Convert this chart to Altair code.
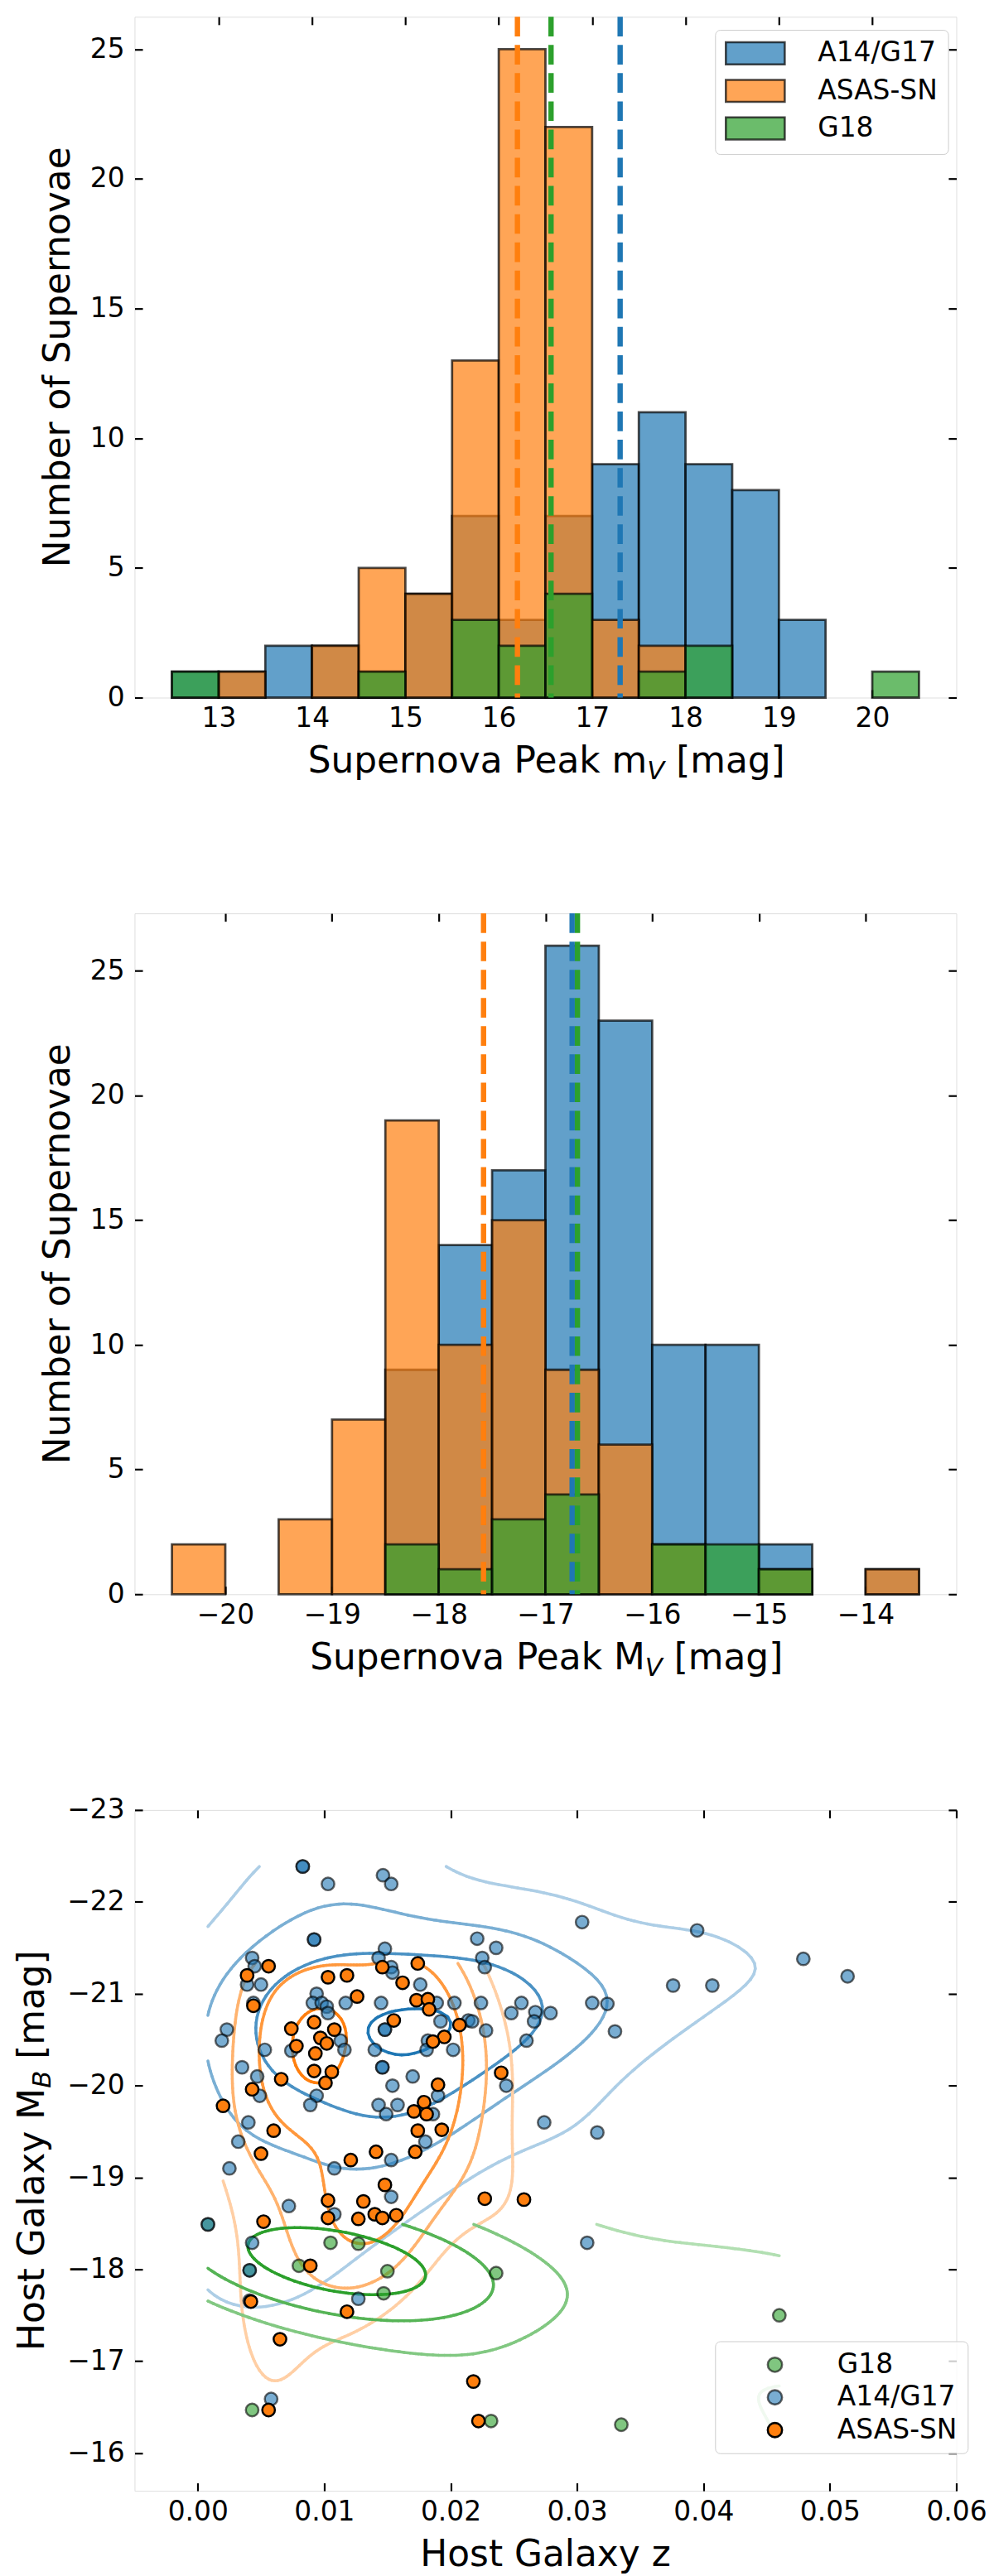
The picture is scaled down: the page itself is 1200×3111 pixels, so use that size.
import colorsys
import numpy as np
import pandas as pd
import altair as alt

FONT = "DejaVu Sans"
TICK_FS = 33.3
TITLE_FS = 44.4
SUB_FS = 31.1
SUB_DY = 8.0
PW, PH = 1005, 833
GAP = 264
TICK_LEN = 9.7
TICK_W = 2.2

GROUPS = ["A14/G17", "ASAS-SN", "G18"]
SC_GROUPS = ["G18", "A14/G17", "ASAS-SN"]
BASE = {"A14/G17": "#1f77b4", "ASAS-SN": "#ff7f0e", "G18": "#2ca02c"}

# ---------------- panel 1 : apparent peak magnitude ----------------
BIN_W = 0.5
APP_BIN_LEFT = [12.5, 13.0, 13.5, 14.0, 14.5, 15.0, 15.5, 16.0, 16.5, 17.0, 17.5, 18.0, 18.5, 19.0, 19.5, 20.0]
APP_A14 = [1, 1, 2, 2, 1, 4, 7, 3, 7, 9, 11, 9, 8, 3, 0, 0]
APP_ASN = [0, 1, 0, 2, 5, 4, 13, 25, 22, 3, 2, 0, 0, 0, 0, 0]
APP_G18 = [1, 0, 0, 0, 1, 0, 3, 2, 4, 0, 1, 2, 0, 0, 0, 1]
APP_MEDIAN = [17.30, 16.20, 16.56]          # A14/G17, ASAS-SN, G18
APP_XTICKS = [13, 14, 15, 16, 17, 18, 19, 20]
APP_XDOMAIN = [12.1, 20.9]
APP_YDOMAIN = [0, 26.25]

# ---------------- panel 2 : absolute peak magnitude ----------------
ABS_BIN_LEFT = [-20.5, -20.0, -19.5, -19.0, -18.5, -18.0, -17.5, -17.0, -16.5, -16.0, -15.5, -15.0, -14.5, -14.0]
ABS_A14 = [0, 0, 0, 0, 9, 14, 17, 26, 23, 10, 10, 2, 0, 1]
ABS_ASN = [2, 0, 3, 7, 19, 10, 15, 9, 6, 2, 0, 1, 0, 1]
ABS_G18 = [0, 0, 0, 0, 2, 1, 3, 4, 0, 2, 2, 1, 0, 0]
ABS_MEDIAN = [-16.75, -17.58, -16.70]
ABS_XTICKS = [-20, -19, -18, -17, -16, -15, -14]
ABS_XDOMAIN = [-20.85, -13.15]
ABS_YDOMAIN = [0, 27.3]
COUNT_TICKS = [0, 5, 10, 15, 20, 25]

# ---------------- panel 3 : host galaxies ----------------
G18_Z = [0.0008, 0.0041, 0.0105, 0.0127, 0.0080, 0.0150, 0.0147, 0.0236, 0.0460, 0.0043, 0.0232, 0.0335]
G18_M = [-18.49, -17.99, -18.29, -18.28, -18.04, -17.98, -17.74, -17.96, -17.50, -16.47, -16.35, -16.31]

A14_Z = [0.0083, 0.0083, 0.0103, 0.01465, 0.0153, 0.0304, 0.0395, 0.0479, 0.0514, 0.0376, 0.0407, 0.0324,
         0.0330, 0.0041, 0.0041, 0.0127, 0.0058,
         0.0092, 0.0092, 0.0221, 0.0236, 0.0225, 0.0227, 0.0148, 0.0143, 0.0153, 0.0154, 0.0043, 0.0045,
         0.0039, 0.0050, 0.0044, 0.0176, 0.0094, 0.0091, 0.0098, 0.0102, 0.0103, 0.0117, 0.0145, 0.0189,
         0.0203, 0.0224, 0.0248, 0.0256, 0.0267, 0.0266, 0.0279, 0.0312, 0.0192, 0.0214, 0.0217, 0.0148,
         0.0148, 0.0023, 0.0019, 0.0228, 0.0260, 0.0182, 0.0181, 0.0202, 0.0113, 0.0116, 0.0053, 0.0074,
         0.0140, 0.0146, 0.0146, 0.0035, 0.0047, 0.0049, 0.0170, 0.0154, 0.0094, 0.0089, 0.0143, 0.0158,
         0.0149, 0.0186, 0.0190, 0.0244, 0.0040, 0.0032, 0.0025, 0.0274, 0.0316, 0.0180, 0.0153, 0.0108,
         0.0072, 0.0153, 0.0108, 0.0043, 0.0308, 0.0008]
A14_M = [-22.385, -22.385, -22.195, -22.29, -22.195, -21.78, -21.69, -21.38, -21.19, -21.09, -21.09, -20.89,
         -20.59, -17.66, -17.99, -17.68, -16.59,
         -21.59, -21.59, -21.60, -21.50, -21.39, -21.29, -21.49, -21.39, -21.29, -21.23, -21.39, -21.30,
         -21.10, -21.10, -20.90, -21.10, -21.00, -20.90, -20.90, -20.86, -20.79, -20.90, -20.90, -20.90,
         -20.90, -20.90, -20.79, -20.90, -20.80, -20.70, -20.79, -20.90, -20.70, -20.71, -20.70, -20.61,
         -20.61, -20.61, -20.49, -20.60, -20.49, -20.49, -20.39, -20.39, -20.49, -20.39, -20.39, -20.38,
         -20.39, -20.20, -20.20, -20.20, -20.10, -19.89, -20.10, -20.00, -19.89, -19.79, -19.79, -19.79,
         -19.69, -19.69, -19.89, -20.00, -19.60, -19.39, -19.10, -19.60, -19.49, -19.39, -19.19, -19.10,
         -18.69, -18.79, -18.60, -18.29, -18.29, -18.49]

ASN_Z = [0.0056, 0.0039, 0.0044, 0.0103, 0.0118, 0.0146, 0.0174, 0.0162, 0.0126, 0.0173, 0.0182, 0.0183,
         0.0155, 0.0207, 0.0074, 0.0092, 0.0108, 0.0097, 0.0102, 0.0078, 0.0093, 0.0195, 0.0186, 0.0092,
         0.0106, 0.0101, 0.0066, 0.0043, 0.0020, 0.0190, 0.0179, 0.0171, 0.0181, 0.0174, 0.0193, 0.0060,
         0.0050, 0.0240, 0.0141, 0.0121, 0.0172, 0.0148, 0.0103, 0.0131, 0.0103, 0.0127, 0.0140, 0.0146,
         0.0157, 0.0052, 0.0227, 0.0258, 0.0089, 0.0042, 0.0118, 0.0065, 0.0218, 0.0222, 0.0056]
ASN_M = [-21.30, -21.20, -20.87, -21.18, -21.20, -21.29, -21.33, -21.12, -20.97, -20.93, -20.94, -20.83,
         -20.71, -20.66, -20.62, -20.69, -20.61, -20.52, -20.46, -20.43, -20.35, -20.53, -20.48, -20.16,
         -20.15, -20.03, -20.07, -19.96, -19.78, -20.01, -19.82, -19.72, -19.69, -19.51, -19.52, -19.51,
         -19.26, -20.14, -19.28, -19.19, -19.28, -18.92, -18.75, -18.74, -18.56, -18.55, -18.60, -18.56,
         -18.59, -18.52, -18.77, -18.76, -18.04, -17.65, -17.54, -17.24, -16.78, -16.35, -16.47]

Z_TICKS = [0.0, 0.01, 0.02, 0.03, 0.04, 0.05, 0.06]
Z_DOMAIN = [-0.005, 0.06]
M_TICKS = [-23, -22, -21, -20, -19, -18, -17, -16]
M_DOMAIN = [-23, -15.59]

# contour levels (fraction of each group's density peak) and their colour strength
CONTOUR_FRACS = {"A14/G17": [0.13, 0.36, 0.62, 0.96],
                 "ASAS-SN": [0.18, 0.36, 0.60, 0.90],
                 "G18": [0.07, 0.30, 0.55, 0.82]}
CONTOUR_STRENGTH = [0.30, 0.55, 0.78, 1.0]

# ---------------- helpers ----------------
ADV = {' ': 651, '[': 799, ']': 799, 'a': 1255, 'e': 1260, 'g': 1300, 'k': 1186, 'm': 1995, 'n': 1298,
       'o': 1253, 'p': 1300, 'r': 842, 'u': 1298, 'v': 1212, 'y': 1212, 'x': 1212, 'l': 569, 's': 1067,
       't': 803, 'S': 1300, 'P': 1235, 'M': 1767, 'H': 1540, 'G': 1577, 'V': 1401, 'B': 1405, 'z': 1075}


def tw(s, fs):
    return sum(ADV.get(c, 1250) for c in s) / 2048.0 * fs


def rgba(hexc, a):
    r, g, b = (int(hexc[i:i + 2], 16) for i in (1, 3, 5))
    return f"rgba({r},{g},{b},{a})"


DUMMY = pd.DataFrame({"k": [0]})


def txt(s, x, y, fs=TITLE_FS, align="left", angle=0, dy=0.0, italic=False):
    kw = dict(text=s, font=FONT, fontSize=fs, align=align, baseline="alphabetic", color="black")
    if dy:
        kw["dy"] = dy
    if angle:
        kw["angle"] = angle
    if italic:
        kw["fontStyle"] = "italic"
    return alt.Chart(DUMMY).mark_text(**kw).encode(x=alt.value(x), y=alt.value(y))


def x_title_sub(main, sub, tail, cx, base_y):
    w1, w2, ws, w3 = tw(main, TITLE_FS), tw(sub, SUB_FS), tw(" ", TITLE_FS), tw(tail, TITLE_FS)
    X = cx - (w1 + w2 + ws + w3) / 2 + w1
    return [txt(main, X, base_y, align="right"),
            txt(sub, X, base_y, fs=SUB_FS, dy=SUB_DY, italic=True),
            txt(tail, X + w2 + ws, base_y)]


def y_title_sub(main, sub, tail, bx, cy):
    w1, w2, ws, w3 = tw(main, TITLE_FS), tw(sub, SUB_FS), tw(" ", TITLE_FS), tw(tail, TITLE_FS)
    A = cy + (w1 + w2 + ws + w3) / 2 - w1
    return [txt(main, bx, A, align="right", angle=270),
            txt(sub, bx, A, fs=SUB_FS, angle=270, dy=SUB_DY, italic=True),
            txt(tail, bx, A - w2 - ws, angle=270)]


AX_COMMON = dict(title=None, domain=False, grid=False, tickColor="black", tickWidth=TICK_W,
                 tickSize=TICK_LEN, offset=-TICK_LEN, labelFont=FONT, labelFontSize=TICK_FS,
                 labelColor="black", labelFlush=False, labelOverlap=False, minExtent=0)


def ax_bottom(values, fmt):
    return alt.Axis(orient="bottom", values=values, format=fmt, labelPadding=9.7, **AX_COMMON)


def ax_top(values):
    return alt.Axis(orient="top", values=values, labels=False, **AX_COMMON)


def ax_left(values, fmt):
    return alt.Axis(orient="left", values=values, format=fmt, labelPadding=12.5, **AX_COMMON)


def ax_right(values):
    return alt.Axis(orient="right", values=values, labels=False, **AX_COMMON)


def make_legend(y, path, stroke_col, sym_off, row_pad):
    return alt.Legend(title=None, orient="none", legendX=710, legendY=y, direction="vertical",
                      symbolType=path, symbolSize=900, symbolStrokeWidth=2.6,
                      symbolStrokeColor=stroke_col, symbolOffset=sym_off, labelFont=FONT,
                      labelFontSize=TICK_FS, labelColor="black", labelOffset=59.7, rowPadding=row_pad,
                      padding=12, strokeColor="#cccccc", fillColor="rgba(255,255,255,0.8)",
                      cornerRadius=6, labelLimit=500)


RECT_PATH = "M-2.4,-0.9H2.4V0.9H-2.4Z"
CIRC_PATH = "M0.583,0A0.583,0.583,0,1,1,-0.583,0A0.583,0.583,0,1,1,0.583,0Z"


def hist_df(lefts, counts):
    rows = []
    for gi, g in enumerate(GROUPS):
        for l, c in zip(lefts, counts[gi]):
            if c > 0:
                rows.append(dict(group=g, x0=l, x1=l + BIN_W, count=c, base=0, ord=gi))
    return pd.DataFrame(rows)


def hist_panel(lefts, counts, medians, xdom, xticks, ydom, legend, xtitle_parts):
    df = hist_df(lefts, counts)
    xs = alt.Scale(domain=xdom, nice=False, zero=False)
    ys = alt.Scale(domain=ydom, nice=False, zero=False)
    bars = alt.Chart(df).mark_rect(strokeWidth=2.8).encode(
        x=alt.X("x0:Q", scale=xs, axis=ax_bottom(xticks, "d")),
        x2=alt.X2("x1"),
        y=alt.Y("count:Q", scale=ys, axis=ax_left(COUNT_TICKS, "d")),
        y2=alt.Y2("base"),
        fill=alt.Fill("group:N", scale=alt.Scale(domain=GROUPS, range=[rgba(BASE[g], 0.7) for g in GROUPS]),
                      legend=legend),
        stroke=alt.Stroke("group:N", scale=alt.Scale(domain=GROUPS, range=["rgba(0,0,0,0.7)"] * 3), legend=None),
        order=alt.Order("ord:Q"),
    )
    mdf = pd.DataFrame({"group": GROUPS, "med": medians})
    rules = []
    for g in GROUPS:
        rules.append(alt.Chart(mdf).transform_filter(alt.datum.group == g).mark_rule(
            color=BASE[g], strokeWidth=6.5, strokeDash=[24, 10.5]).encode(
            x=alt.X("med:Q", scale=xs, axis=None)))
    axes = alt.Chart(df).mark_point(opacity=0).encode(
        x=alt.X("x0:Q", scale=xs, axis=ax_top(xticks)),
        y=alt.Y("count:Q", scale=ys, axis=ax_right(COUNT_TICKS)),
    )
    titles = x_title_sub(*xtitle_parts, PW / 2, PH + 92) + [
        txt("Number of Supernovae", -79.7, PH / 2, align="center", angle=270)]
    return alt.layer(bars, *rules, axes, *titles).resolve_axis(
        x="independent", y="independent").properties(width=PW, height=PH)


# ---------------- KDE contours (derived from the scatter data) ----------------
def kde_grid(xs, ys, n=100):
    data = np.vstack([np.asarray(xs, float), np.asarray(ys, float)])
    N = data.shape[1]
    factor = N ** (-1.0 / 6.0)
    cov = np.cov(data) * factor ** 2
    inv = np.linalg.inv(cov)
    gx = np.linspace(data[0].min(), data[0].max(), n)
    gy = np.linspace(data[1].min(), data[1].max(), n)
    X, Y = np.meshgrid(gx, gy)
    Z = np.zeros_like(X)
    for x0, y0 in data.T:
        dx, dy = X - x0, Y - y0
        Z += np.exp(-0.5 * (inv[0, 0] * dx * dx + 2 * inv[0, 1] * dx * dy + inv[1, 1] * dy * dy))
    return gx, gy, Z


def march(gx, gy, Z, lev):
    segs = []
    Zl = Z.tolist()
    ny, nx = Z.shape
    for j in range(ny - 1):
        r0, r1 = Zl[j], Zl[j + 1]
        y0, y1 = gy[j], gy[j + 1]
        for i in range(nx - 1):
            a, b, c, d = r0[i], r0[i + 1], r1[i + 1], r1[i]
            ia, ib, ic, idd = a >= lev, b >= lev, c >= lev, d >= lev
            if ia == ib == ic == idd:
                continue
            x0, x1 = gx[i], gx[i + 1]
            p = {}
            if ia != ib:
                p["B"] = (x0 + (lev - a) / (b - a) * (x1 - x0), y0)
            if ib != ic:
                p["R"] = (x1, y0 + (lev - b) / (c - b) * (y1 - y0))
            if idd != ic:
                p["T"] = (x0 + (lev - d) / (c - d) * (x1 - x0), y1)
            if ia != idd:
                p["L"] = (x0, y0 + (lev - a) / (d - a) * (y1 - y0))
            if len(p) == 2:
                u, v = list(p.values())
                segs.append((u, v))
            else:
                cen = (a + b + c + d) / 4 >= lev
                if ia != cen:
                    segs.append((p["B"], p["L"]))
                if ib != cen:
                    segs.append((p["B"], p["R"]))
                if ic != cen:
                    segs.append((p["R"], p["T"]))
                if idd != cen:
                    segs.append((p["T"], p["L"]))
    return segs


def light_mix(hexc, t):
    r, g, b = (int(hexc[i:i + 2], 16) / 255 for i in (1, 3, 5))
    h, l, s = colorsys.rgb_to_hls(r, g, b)
    lr, lg, lb = colorsys.hls_to_rgb(h, 0.95, s)
    out = [lr * (1 - t) + r * t, lg * (1 - t) + g * t, lb * (1 - t) + b * t]
    return "#" + "".join("%02x" % int(round(v * 255)) for v in out)


def contour_df():
    rows = []
    for g, zs, ms in [("A14/G17", A14_Z, A14_M), ("ASAS-SN", ASN_Z, ASN_M), ("G18", G18_Z, G18_M)]:
        gx, gy, Z = kde_grid(zs, ms)
        zmax = float(Z.max())
        for frac, t in zip(CONTOUR_FRACS[g], CONTOUR_STRENGTH):
            col = light_mix(BASE[g], t)
            for (u, v) in march(gx, gy, Z, frac * zmax):
                rows.append(dict(x=u[0], y=u[1], x2=v[0], y2=v[1], col=col))
    return pd.DataFrame(rows)


def scatter_panel():
    pts = []
    order = {"G18": 0, "A14/G17": 1, "ASAS-SN": 2}
    for g, zs, ms in [("G18", G18_Z, G18_M), ("A14/G17", A14_Z, A14_M), ("ASAS-SN", ASN_Z, ASN_M)]:
        for z, m in zip(zs, ms):
            pts.append(dict(group=g, z=z, M=m, ord=order[g]))
    pdf = pd.DataFrame(pts)
    xs = alt.Scale(domain=Z_DOMAIN, nice=False, zero=False)
    ys = alt.Scale(domain=M_DOMAIN, nice=False, zero=False, reverse=True)
    cdf = contour_df()
    cont = alt.Chart(cdf).mark_rule(strokeWidth=3.6, strokeCap="round").encode(
        x=alt.X("x:Q", scale=xs, axis=None), x2=alt.X2("x2"),
        y=alt.Y("y:Q", scale=ys, axis=None), y2=alt.Y2("y2"),
        color=alt.Color("col:N", scale=None, legend=None),
    )
    fills = [rgba(BASE["G18"], 0.6), rgba(BASE["A14/G17"], 0.6), BASE["ASAS-SN"]]
    strokes = ["rgba(0,0,0,0.6)", "rgba(0,0,0,0.6)", "#000000"]
    points = alt.Chart(pdf).mark_circle(size=240, strokeWidth=2.5, opacity=1).encode(
        x=alt.X("z:Q", scale=xs, axis=ax_bottom(Z_TICKS, ".2f")),
        y=alt.Y("M:Q", scale=ys, axis=ax_left(M_TICKS, "d")),
        fill=alt.Fill("group:N", scale=alt.Scale(domain=SC_GROUPS, range=fills),
                      legend=make_legend(650, CIRC_PATH, "rgba(0,0,0,0.75)", 44.5, 6)),
        stroke=alt.Stroke("group:N", scale=alt.Scale(domain=SC_GROUPS, range=strokes), legend=None),
        order=alt.Order("ord:Q"),
    )
    axes = alt.Chart(pdf).mark_point(opacity=0).encode(
        x=alt.X("z:Q", scale=xs, axis=ax_top(Z_TICKS)),
        y=alt.Y("M:Q", scale=ys, axis=ax_right(M_TICKS)),
    )
    titles = [txt("Host Galaxy z", PW / 2, PH + 92, align="center")] + \
        y_title_sub("Host Galaxy M", "B", "[mag]", -111, PH / 2)
    return alt.layer(cont, points, axes, *titles).resolve_axis(
        x="independent", y="independent").properties(width=PW, height=PH)


p1 = hist_panel(APP_BIN_LEFT, [APP_A14, APP_ASN, APP_G18], APP_MEDIAN, APP_XDOMAIN, APP_XTICKS,
                APP_YDOMAIN, make_legend(16, RECT_PATH, "rgba(0,0,0,0.7)", 20.5, 7),
                ("Supernova Peak m", "V", "[mag]"))
p2 = hist_panel(ABS_BIN_LEFT, [ABS_A14, ABS_ASN, ABS_G18], ABS_MEDIAN, ABS_XDOMAIN, ABS_XTICKS,
                ABS_YDOMAIN, None, ("Supernova Peak M", "V", "[mag]"))
p3 = scatter_panel()

chart = alt.vconcat(p1, p2, p3, spacing=GAP, bounds="flush").resolve_scale(
    fill="independent", stroke="independent"
).properties(
    padding={"left": 8.5, "top": -12, "right": 0, "bottom": 0}
).configure_view(stroke="black", strokeWidth=2.2).configure(font=FONT)

chart.save("out.html", embed_options={"renderer": "svg", "actions": False})
